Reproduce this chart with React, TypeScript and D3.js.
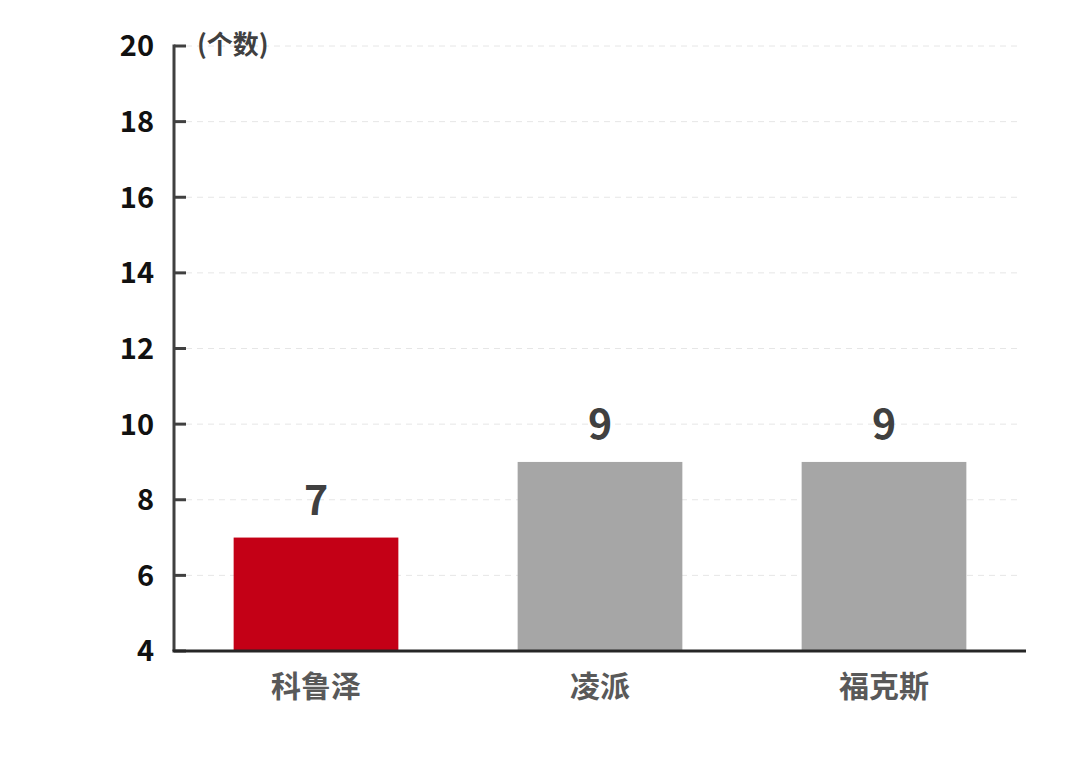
import React from "react";
import * as d3 from "d3";

// Chart data
const categories = ["科鲁泽", "凌派", "福克斯"];
const values = [7, 9, 9];
const barColors = ["#c40016", "#a6a6a6", "#a6a6a6"];
const yTicks = [4, 6, 8, 10, 12, 14, 16, 18, 20];
const unitLabel = "(个数)";

const width = 1080;
const height = 777;
const marginLeft = 174;
const marginRight = 54;
const marginTop = 46;
const marginBottom = 126;
const font = "'Noto Sans CJK SC', 'Noto Sans', sans-serif";

const App: React.FC = () => {
  const x = d3
    .scaleBand()
    .domain(categories)
    .range([marginLeft, width - marginRight])
    .paddingInner(0.42)
    .paddingOuter(0.21);

  const y = d3
    .scaleLinear()
    .domain([4, 20])
    .range([height - marginBottom, marginTop]);

  return (
    <svg
      width={width}
      height={height}
      style={{ display: "block", position: "absolute", left: 0, top: 0, background: "#fff" }}
      fontFamily={font}
    >
      {/* grid lines */}
      {yTicks.map((t) => (
        <line
          key={"g" + t}
          x1={marginLeft + 12}
          x2={width - marginRight - 4}
          y1={y(t)}
          y2={y(t)}
          stroke="#e6e6e6"
          strokeWidth={1}
          strokeDasharray="6,5"
        />
      ))}

      {/* bars */}
      {categories.map((c, i) => (
        <rect
          key={c}
          x={x(c)}
          y={y(values[i])}
          width={x.bandwidth()}
          height={y(4) - y(values[i])}
          fill={barColors[i]}
        />
      ))}

      {/* value labels */}
      {categories.map((c, i) => (
        <text
          key={"v" + c}
          x={(x(c) || 0) + x.bandwidth() / 2}
          y={y(values[i]) - 23}
          textAnchor="middle"
          fontSize={41}
          fontWeight="bold"
          fill="#404040"
        >
          {values[i]}
        </text>
      ))}

      {/* y axis */}
      <line
        x1={marginLeft}
        x2={marginLeft}
        y1={y(20) - 1.5}
        y2={y(4)}
        stroke="#404040"
        strokeWidth={3}
      />
      {yTicks.map((t) => (
        <g key={"t" + t}>
          <line
            x1={marginLeft}
            x2={marginLeft + 12}
            y1={y(t)}
            y2={y(t)}
            stroke="#404040"
            strokeWidth={3}
          />
          <text
            x={154}
            y={y(t)}
            dy="0.36em"
            textAnchor="end"
            fontSize={29}
            fontWeight="bold"
            fill="#111"
          >
            {t}
          </text>
        </g>
      ))}

      {/* x axis */}
      <line
        x1={marginLeft - 1.5}
        x2={width - marginRight}
        y1={y(4)}
        y2={y(4)}
        stroke="#262626"
        strokeWidth={3}
      />
      {categories.map((c) => (
        <text
          key={"c" + c}
          x={(x(c) || 0) + x.bandwidth() / 2}
          y={y(4) + 46}
          textAnchor="middle"
          fontSize={30}
          fontWeight="bold"
          fill="#595959"
        >
          {c}
        </text>
      ))}

      {/* unit label */}
      <text
        x={197}
        y={y(20) + 8}
        fontSize={26}
        fontWeight="bold"
        fill="#404040"
      >
        {unitLabel}
      </text>
    </svg>
  );
};

export default App;
